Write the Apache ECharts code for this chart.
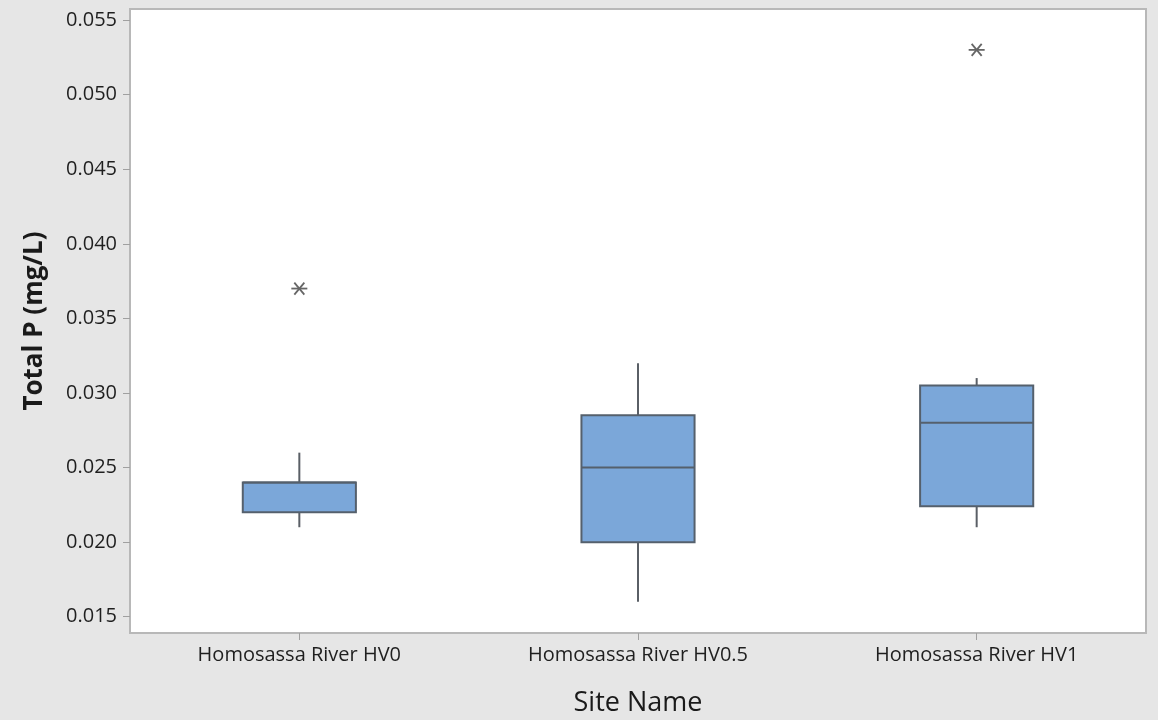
<!DOCTYPE html>
<html>
<head>
<meta charset="utf-8">
<script src="https://cdn.jsdelivr.net/npm/echarts@6/dist/echarts.min.js"></script>
<style>
html,body{margin:0;padding:0;background:#e6e6e6;}
#chart{width:1158px;height:720px;}
</style>
</head>
<body>
<div id="chart"></div>
<script>
const categories = ['Homosassa River HV0', 'Homosassa River HV0.5', 'Homosassa River HV1'];
// [whiskerLow, Q1, median, Q3, whiskerHigh]
const boxHV0 = [0.021, 0.022, 0.024, 0.024, 0.026];
const boxHV05 = [0.016, 0.020, 0.025, 0.0285, 0.032];
const boxHV1 = [0.021, 0.0224, 0.028, 0.0305, 0.031];
const outliers = [[0, 0.037], [2, 0.053]];
const yTicks = [0.015, 0.020, 0.025, 0.030, 0.035, 0.040, 0.045, 0.050, 0.055];

const boxes = [boxHV0, boxHV05, boxHV1].map((b, i) => [i].concat(b));

const chart = echarts.init(document.getElementById('chart'));
const FONT = 'Open Sans';

function renderBox(params, api) {
  const idx = api.value(0);
  const lo = api.coord([idx, api.value(1)]);
  const q1 = api.coord([idx, api.value(2)]);
  const md = api.coord([idx, api.value(3)]);
  const q3 = api.coord([idx, api.value(4)]);
  const hi = api.coord([idx, api.value(5)]);
  const w = api.size([1, 0])[0] * 0.334;
  const x = lo[0];
  const lineStyle = {stroke: '#5a5f66', lineWidth: 2};
  return {
    type: 'group',
    children: [
      {type: 'line', shape: {x1: x, y1: hi[1], x2: x, y2: q3[1]}, style: lineStyle},
      {type: 'line', shape: {x1: x, y1: q1[1], x2: x, y2: lo[1]}, style: lineStyle},
      {type: 'rect', shape: {x: x - w / 2, y: q3[1], width: w, height: q1[1] - q3[1]},
        style: {fill: '#7ba7d9', stroke: '#55606c', lineWidth: 2}},
      {type: 'line', shape: {x1: x - w / 2, y1: md[1], x2: x + w / 2, y2: md[1]},
        style: {stroke: '#55606c', lineWidth: 2}}
    ]
  };
}

function renderStar(params, api) {
  const p = api.coord([api.value(0), api.value(1)]);
  const s = {stroke: '#666666', lineWidth: 1.8};
  const rx = 7, ry = 6;
  return {
    type: 'group',
    children: [
      {type: 'line', shape: {x1: p[0] - rx - 1, y1: p[1], x2: p[0] + rx + 1, y2: p[1]}, style: s},
      {type: 'line', shape: {x1: p[0] - 5, y1: p[1] - ry, x2: p[0] + 5, y2: p[1] + ry}, style: s},
      {type: 'line', shape: {x1: p[0] + 5, y1: p[1] - ry, x2: p[0] - 5, y2: p[1] + ry}, style: s}
    ]
  };
}

chart.setOption({
  backgroundColor: '#e6e6e6',
  animation: false,
  grid: {
    left: 130, top: 9, right: 12, bottom: 87,
    outerBoundsMode: 'none',
    containLabel: false,
    show: true, backgroundColor: '#ffffff', borderColor: '#b8b8b8', borderWidth: 2
  },
  xAxis: {
    type: 'category',
    data: categories,
    boundaryGap: true,
    name: 'Site Name',
    nameLocation: 'middle',
    nameGap: 57,
    nameTextStyle: {fontFamily: FONT, fontSize: 27, color: '#1a1a1a', verticalAlign: 'top'},
    axisLine: {show: true, lineStyle: {color: '#b8b8b8', width: 2}},
    axisTick: {show: true, alignWithLabel: true, length: 7, lineStyle: {color: '#a0a0a0', width: 1}},
    axisLabel: {fontFamily: FONT, fontSize: 20, color: '#1f1f1f', margin: 12},
    splitLine: {show: false}
  },
  yAxis: {
    type: 'value',
    min: 0.01391,
    max: 0.05574,
    name: 'Total P (mg/L)',
    nameLocation: 'middle',
    nameGap: 82,
    nameTextStyle: {fontFamily: FONT, fontSize: 26, color: '#1a1a1a', fontWeight: 'bold'},
    axisLine: {show: true, lineStyle: {color: '#b8b8b8', width: 2}},
    axisTick: {show: true, length: 7, customValues: yTicks, lineStyle: {color: '#a0a0a0', width: 1}},
    axisLabel: {fontFamily: FONT, fontSize: 20, color: '#1f1f1f', margin: 13,
      customValues: yTicks, formatter: v => v.toFixed(3)},
    splitLine: {show: false}
  },
  series: [
    {
      type: 'custom',
      renderItem: renderBox,
      data: boxes,
      encode: {x: 0, y: [1, 2, 3, 4, 5]},
      z: 2
    },
    {
      type: 'custom',
      renderItem: renderStar,
      data: outliers,
      encode: {x: 0, y: 1},
      z: 3
    }
  ]
});
</script>
</body>
</html>
